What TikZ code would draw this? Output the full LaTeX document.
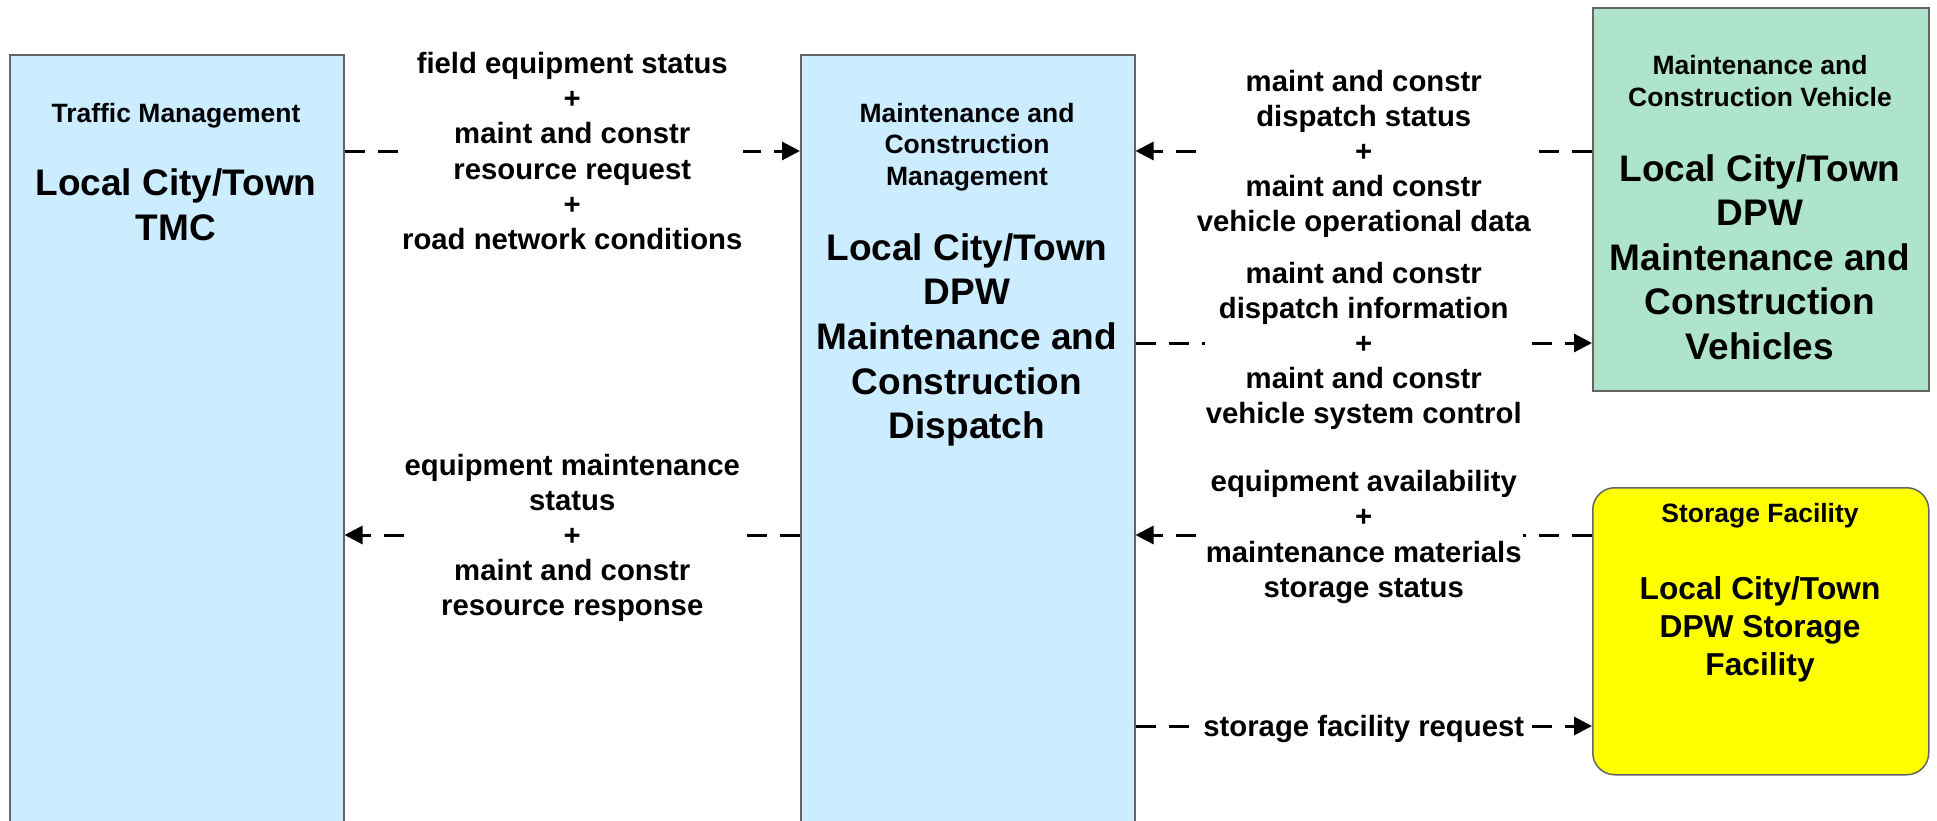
\documentclass[tikz,border=0pt]{standalone}
\usepackage{fontspec}
\setmainfont{Liberation Sans}
\usetikzlibrary{arrows.meta}
\definecolor{boxblue}{RGB}{204,236,255}
\definecolor{boxgreen}{RGB}{175,228,204}
\definecolor{boxyellow}{RGB}{255,255,0}
\definecolor{boxline}{RGB}{100,100,100}
\begin{document}
\begin{tikzpicture}[x=1pt,y=-1pt,
 box/.style={draw=boxline, line width=1.5pt, inner sep=0pt, anchor=north west},
 ttl/.style={font=\bfseries\fontsize{26.5}{31.8}\selectfont, align=center, inner sep=0pt},
 big/.style={font=\bfseries\fontsize{37}{44.6}\selectfont, align=center, inner sep=0pt},
 bigs/.style={font=\bfseries\fontsize{31.7}{38}\selectfont, align=center, inner sep=0pt},
 lbl/.style={font=\bfseries\fontsize{29.3}{35.2}\selectfont, align=center, fill=white, inner sep=1pt},
 flow/.style={line width=3pt, dash pattern=on 20pt off 13pt, -{Triangle[length=18pt,width=18pt]}},
]
\useasboundingbox (0,0) rectangle (1937,820);
\clip (0,0) rectangle (1937,820);
% boxes
\node[box, fill=boxblue, minimum width=334pt, minimum height=790pt] (tmc) at (9,54) {};
\node[box, fill=boxblue, minimum width=334pt, minimum height=790pt] (mcm) at (800,54) {};
\node[box, fill=boxgreen, minimum width=336pt, minimum height=383pt] (veh) at (1592,7) {};
\node[box, fill=boxyellow, rounded corners=22pt, minimum width=336pt, minimum height=287pt] (sto) at (1592,487) {};
% box texts
\node[ttl] (tmct) at (176,116) {Traffic Management};
\node[big] (tmcn) at (176,205) {Local City/Town\\TMC};
\node[ttl] (mcmt) at (967,147) {Maintenance and\\Construction\\Management};
\node[big] (mcmn) at (967,340) {Local City/Town\\DPW\\Maintenance and\\Construction\\Dispatch};
\node[ttl] (veht) at (1760,81) {Maintenance and\\Construction Vehicle};
\node[big] (vehn) at (1760,257) {Local City/Town\\DPW\\Maintenance and\\Construction\\Vehicles};
\node[ttl] (stot) at (1760,516) {Storage Facility};
\node[bigs] (ston) at (1760,629) {Local City/Town\\DPW Storage\\Facility};
% levels
\coordinate (ya) at (0,151);
\coordinate (yb) at (0,343);
\coordinate (yc) at (0,535);
\coordinate (yd) at (0,726);
% connectors
\draw[flow] (tmc.east |- ya) -- (mcm.west |- ya) node[midway, lbl] (l1) {field equipment status\\+\\maint and constr\\resource request\\+\\road network conditions};
\draw[flow] (veh.west |- ya) -- (mcm.east |- ya) node[midway, lbl, yshift=-3pt] (l2) {maint and constr\\dispatch status\\+\\maint and constr\\vehicle operational data};
\draw[flow] (mcm.east |- yb) -- (veh.west |- yb) node[midway, lbl, yshift=-3pt] (l3) {maint and constr\\dispatch information\\+\\maint and constr\\vehicle system control};
\draw[flow] (mcm.west |- yc) -- (tmc.east |- yc) node[midway, lbl, yshift=-3pt] (l4) {equipment maintenance\\status\\+\\maint and constr\\resource response};
\draw[flow] (sto.west |- yc) -- (mcm.east |- yc) node[midway, lbl, yshift=-2pt] (l5) {equipment availability\\+\\maintenance materials\\storage status};
\draw[flow] (mcm.east |- yd) -- (sto.west |- yd) node[midway, lbl, yshift=-3pt] (l6) {storage facility request};
\end{tikzpicture}
\end{document}
